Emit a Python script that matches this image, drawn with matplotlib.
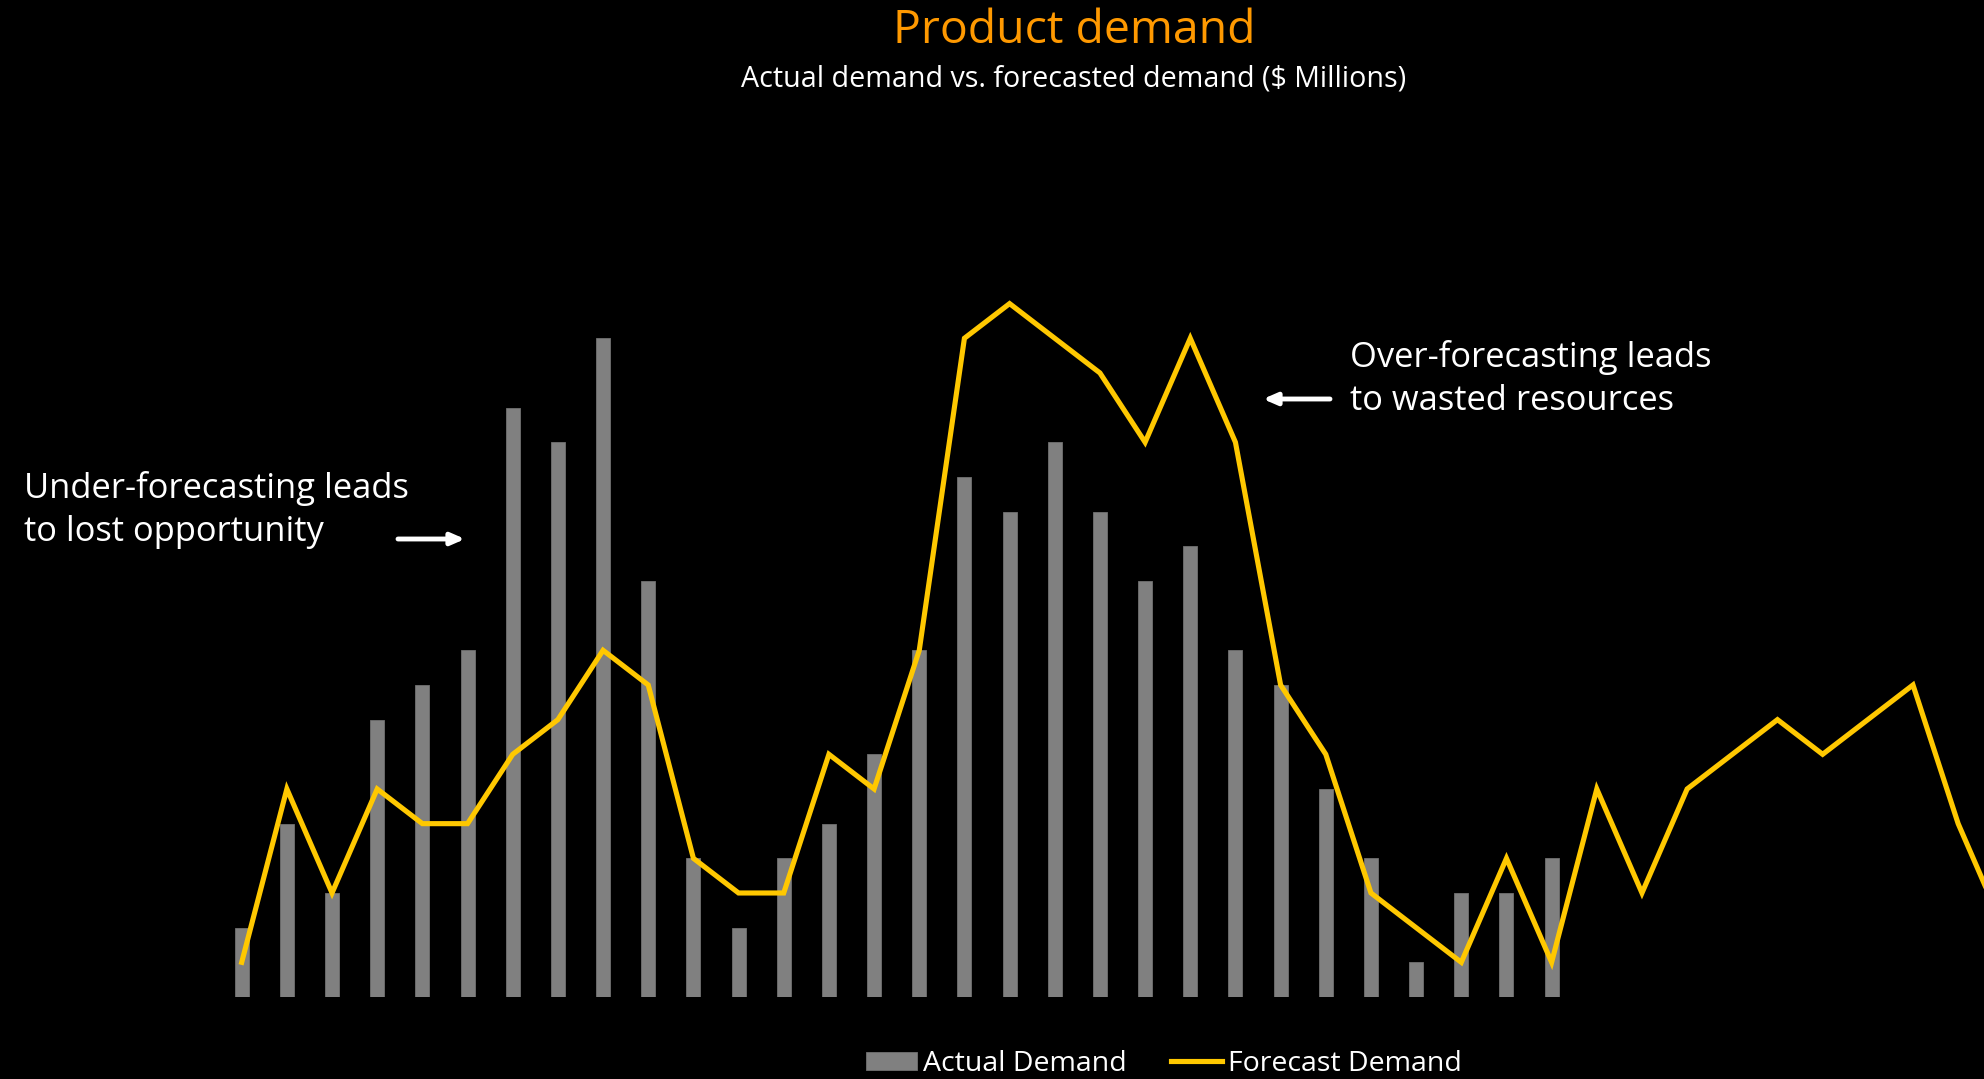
import matplotlib
matplotlib.use("Agg")
import matplotlib.pyplot as plt
import numpy as np

# Monthly demand in $ millions
actual_demand = [2, 5, 3, 8, 9, 10, 17, 16, 19, 12, 4, 2, 4, 5, 7, 10, 15, 14,
                 16, 14, 12, 13, 10, 9, 6, 4, 1, 3, 3, 4]
forecast_demand = [1, 6, 3, 6, 5, 5, 7, 8, 10, 9, 4, 3, 3, 7, 6, 10, 19, 20, 19,
                   18, 16, 19, 16, 9, 7, 3, 2, 1, 4, 1, 6, 3, 6, 7, 8, 7, 8, 9, 5, 2]

title = "Product demand"
subtitle = "Actual demand vs. forecasted demand ($ Millions)"
series_labels = ["Actual Demand", "Forecast Demand"]
note_under = "Under-forecasting leads\nto lost opportunity"
note_over = "Over-forecasting leads\nto wasted resources"

BG = "black"
BAR = "#808080"
LINE = "#FFC800"
ORANGE = "#FF9900"
FONT = ["Open Sans", "DejaVu Sans"]

plt.rcParams["font.family"] = FONT

W, H = 1984, 1079
fig = plt.figure(figsize=(W / 100, H / 100), dpi=100, facecolor=BG)

base = (H - 997.0) / H
ax = fig.add_axes([0, base, 1, 1 - base])
ax.set_facecolor(BG)
for s in ax.spines.values():
    s.set_visible(False)
ax.set_xticks([])
ax.set_yticks([])

x0, step = 241.7, 45.17
ax.set_xlim(-x0 / step, (W - x0) / step)
ax.set_ylim(0, 997.0 / 34.67)

xa = np.arange(len(actual_demand))
xf = np.arange(len(forecast_demand))
bars = ax.bar(xa, actual_demand, width=0.31, color=BAR, edgecolor="#707070",
              linewidth=0.6, label=series_labels[0], zorder=2)
line, = ax.plot(xf, forecast_demand, color=LINE, lw=3.7, solid_joinstyle="miter",
                label=series_labels[1], zorder=3)

# Titles
fig.text(1074 / W, 1 - 31 / H, title, color=ORANGE, fontsize=33.4,
         ha="center", va="center")
fig.text(1074 / W, 1 - 79 / H, subtitle, color="white", fontsize=20.6,
         ha="center", va="center")

# Side notes with arrows
fig.text(24 / W, 1 - 510 / H, note_under, color="white", fontsize=24.8,
         ha="left", va="center", linespacing=1.32)
fig.text(1350 / W, 1 - 379 / H, note_over, color="white", fontsize=24.8,
         ha="left", va="center", linespacing=1.32)

arrow_kw = dict(arrowstyle="-|>,head_length=0.8,head_width=0.35", color="white",
                lw=3.5, shrinkA=0, shrinkB=0)
ax.annotate("", xy=(465 / W, 1 - 539 / H), xytext=(398 / W, 1 - 539 / H),
            xycoords="figure fraction", textcoords="figure fraction",
            arrowprops=arrow_kw)
ax.annotate("", xy=(1263 / W, 1 - 399 / H), xytext=(1330 / W, 1 - 399 / H),
            xycoords="figure fraction", textcoords="figure fraction",
            arrowprops=arrow_kw)

leg = ax.legend(handles=[bars, line], loc="center",
                bbox_to_anchor=(1164 / W, 1 - 1064 / H),
                bbox_transform=fig.transFigure, ncol=2, frameon=False,
                fontsize=20.5, handlelength=1.79, handleheight=0.6,
                handletextpad=0.2, columnspacing=1.55, borderpad=0,
                borderaxespad=0)
for t in leg.get_texts():
    t.set_color("white")

fig.savefig("out.png", dpi=100, facecolor=BG)
